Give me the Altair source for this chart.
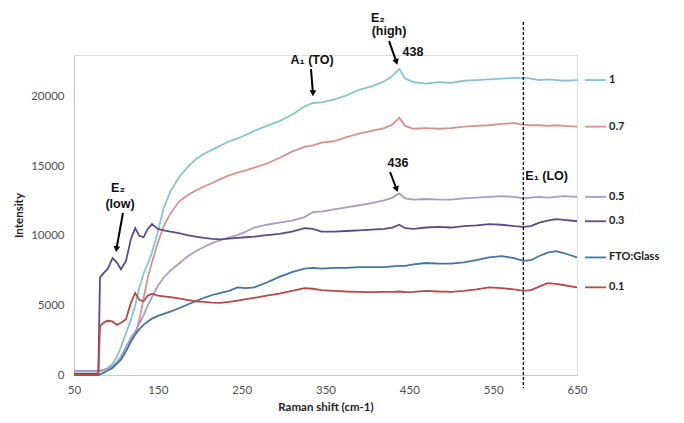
import altair as alt
import pandas as pd

# Raman shift grid (cm-1)
shift = [50, 70, 79, 81, 85, 90, 96, 101, 106, 112, 118, 123, 128, 133, 138, 143, 150, 157, 165, 175,
         185, 195, 205, 215, 225, 235, 245, 255, 265, 280, 295, 310, 325, 335, 345, 360, 375, 390, 405,
         420, 430, 438, 445, 455, 470, 485, 500, 515, 530, 545, 560, 575, 586, 595, 605, 615, 625, 635, 650]

s_1 = [300, 300, 300, 300, 350, 500, 800, 1300, 2000, 3000, 4000, 5000, 6300, 7300, 8000, 8800, 10300,
       12000, 13200, 14200, 14900, 15500, 15900, 16200, 16500, 16800, 17000, 17250, 17550, 17900, 18250,
       18700, 19300, 19550, 19600, 19800, 20100, 20500, 20750, 21100, 21500, 22000, 21300, 21050, 20950,
       21050, 21000, 21150, 21200, 21250, 21300, 21350, 21350, 21300, 21200, 21250, 21200, 21150, 21200]
s_07 = [300, 300, 300, 300, 350, 450, 600, 850, 1300, 2000, 2500, 2900, 4000, 5500, 7000, 8100, 9500,
        10700, 11600, 12450, 12900, 13250, 13550, 13800, 14100, 14350, 14550, 14700, 14900, 15200, 15600,
        16050, 16400, 16500, 16700, 16800, 17100, 17350, 17550, 17750, 18000, 18500, 17900, 17700, 17750,
        17700, 17750, 17850, 17900, 17950, 18050, 18100, 18000, 17950, 17950, 17900, 17950, 17900, 17850]
s_05 = [300, 300, 300, 300, 350, 450, 650, 900, 1300, 2000, 2700, 3100, 3700, 4300, 5000, 5600, 6400,
        7000, 7500, 8000, 8500, 8900, 9200, 9500, 9700, 9900, 10050, 10300, 10600, 10800, 10950, 11100,
        11350, 11700, 11750, 11900, 12050, 12200, 12350, 12550, 12750, 13050, 12700, 12600, 12650, 12600,
        12600, 12700, 12750, 12800, 12850, 12800, 12700, 12750, 12800, 12750, 12800, 12850, 12800]
s_03 = [100, 100, 100, 7000, 7300, 7600, 8400, 8100, 7600, 8200, 9800, 10550, 10000, 9900, 10500, 10850,
        10500, 10400, 10300, 10200, 10050, 9950, 9850, 9780, 9750, 9800, 9850, 9900, 9950, 10050, 10150,
        10300, 10550, 10500, 10300, 10300, 10350, 10400, 10450, 10500, 10600, 10800, 10550, 10500, 10600,
        10650, 10600, 10700, 10750, 10850, 10800, 10700, 10650, 10700, 10950, 11100, 11200, 11150, 11050]
s_fto = [0, 0, 0, 50, 150, 300, 500, 800, 1100, 1700, 2400, 2900, 3300, 3600, 3850, 4050, 4250, 4400,
         4550, 4800, 5050, 5300, 5550, 5750, 5900, 6050, 6300, 6250, 6300, 6650, 7050, 7400, 7650, 7700,
         7650, 7700, 7700, 7750, 7750, 7750, 7800, 7850, 7850, 7950, 8050, 8000, 8000, 8100, 8250, 8450,
         8550, 8400, 8200, 8250, 8550, 8800, 8900, 8750, 8450]
s_01 = [0, 0, 0, 3500, 3750, 3900, 3850, 3600, 3750, 4000, 5200, 5900, 5400, 5300, 5700, 5850, 5700, 5650,
        5600, 5500, 5400, 5300, 5250, 5200, 5180, 5250, 5350, 5450, 5550, 5700, 5850, 6050, 6250, 6200,
        6100, 6050, 6000, 5980, 5950, 5970, 5980, 6000, 5950, 5980, 6050, 6000, 5980, 6050, 6150, 6300,
        6250, 6150, 6050, 6100, 6350, 6600, 6550, 6450, 6300]

series_names = ["1", "0.7", "0.5", "0.3", "FTO:Glass", "0.1"]
series_vals = [s_1, s_07, s_05, s_03, s_fto, s_01]
series_colors = ["#84c3d8", "#d9918c", "#a99dc4", "#5b4c88", "#3f75a8", "#b54a48"]

x_ticks = [50, 150, 250, 350, 450, 550, 650]
y_ticks = [0, 5000, 10000, 15000, 20000]

# annotations
ann_text = ["E\u2082", "(low)", "A\u2081 (TO)", "E\u2082", "(high)", "438", "436"]
ann_x = [102.5, 104.9, 334, 412.6, 425.8, 454.4, 436.5]
ann_y = [13440, 12290, 22640, 25650, 24700, 23220, 15240]

arrow_x = [108.4, 332.7, 425.8, 427.0]
arrow_y = [11640, 21990, 24000, 14590]
arrow_tx = [100.6, 335.0, 434.6, 434.8]
arrow_ty = [9050, 20250, 22500, 13350]
arrow_angle = [10, 0, 343, 341]

lo_shift = 586

rows = []
for name, vals in zip(series_names, series_vals):
    for xv, yv in zip(shift, vals):
        rows.append({"x": xv, "v": yv, "series": name})
df = pd.DataFrame(rows)
last = pd.DataFrame({"series": series_names, "v": [v[-1] for v in series_vals]})
ann = pd.DataFrame({"t": ann_text, "x": ann_x, "y": ann_y})
arr = pd.DataFrame({"x": arrow_x, "y": arrow_y, "x2": arrow_tx, "y2": arrow_ty, "a": arrow_angle})

W, H = 503, 320
xs = alt.Scale(domain=[50, 650], nice=False, zero=False)
ys = alt.Scale(domain=[0, 23000], nice=False)
col = alt.Scale(domain=series_names, range=series_colors)

lines = alt.Chart(df).mark_line(strokeWidth=1.8, clip=False).encode(
    x=alt.X("x:Q", scale=xs, title="Raman shift (cm-1)",
            axis=alt.Axis(values=x_ticks, ticks=False, grid=False, domainColor="#c8c8c8",
                          labelColor="#505050", labelFontSize=11.5, labelFont="Lato",
                          labelFlush=False, labelPadding=9, titleFont="Lato", titleFontSize=11.5,
                          titleFontWeight="bold", titleColor="#222", titlePadding=6)),
    y=alt.Y("v:Q", scale=ys, title="Intensity",
            axis=alt.Axis(values=y_ticks, ticks=False, grid=False, domainColor="#c8c8c8",
                          format="d", labelColor="#505050", labelFontSize=11.5, labelFont="Lato",
                          labelPadding=10, titleFont="Lato", titleFontSize=11.5,
                          titleFontWeight="bold", titleColor="#222", titlePadding=6)),
    color=alt.Color("series:N", scale=col, legend=None),
    detail="series:N",
)

leg_rules = alt.Chart(last).mark_rule(strokeWidth=1.8).encode(
    x=alt.value(511), x2=alt.value(532),
    y=alt.Y("v:Q", scale=ys),
    color=alt.Color("series:N", scale=col, legend=None),
)
leg_text = alt.Chart(last).mark_text(align="left", baseline="middle", font="Lato",
                                     fontSize=11, fontWeight="bold", color="#222").encode(
    x=alt.value(535), y=alt.Y("v:Q", scale=ys), text="series:N")

vline = alt.Chart(pd.DataFrame({"x": [lo_shift]})).mark_rule(
    color="black", strokeWidth=1.3, strokeDash=[3, 2]).encode(
    x=alt.X("x:Q", scale=xs), y=alt.value(-33), y2=alt.value(333))

lo_text = alt.Chart(pd.DataFrame({"x": [lo_shift], "y": [14300], "t": ["E\u2081 (LO)"]})).mark_text(
    align="left", baseline="middle", dx=2, font="Liberation Sans", fontSize=12.5, fontWeight="bold",
    color="#111").encode(x=alt.X("x:Q", scale=xs), y=alt.Y("y:Q", scale=ys), text="t:N")

ann_layer = alt.Chart(ann).mark_text(baseline="middle", align="center", font="Liberation Sans",
                                     fontSize=12.5, fontWeight="bold", color="#111").encode(
    x=alt.X("x:Q", scale=xs), y=alt.Y("y:Q", scale=ys), text="t:N")

shafts = alt.Chart(arr).mark_rule(color="black", strokeWidth=2).encode(
    x=alt.X("x:Q", scale=xs), y=alt.Y("y:Q", scale=ys), x2="x2:Q", y2="y2:Q")
heads = alt.Chart(arr).mark_point(shape="triangle-down", filled=True, color="black", size=45,
                                  opacity=1).encode(
    x=alt.X("x2:Q", scale=xs), y=alt.Y("y2:Q", scale=ys), angle=alt.Angle("a:Q", scale=None))

chart = alt.layer(lines, leg_rules, leg_text, vline, lo_text, ann_layer, shafts, heads).properties(
    width=W, height=H,
    autosize=alt.AutoSizeParams(type="none"),
    padding={"left": 66, "top": 47, "right": 99, "bottom": 40},
).configure_view(stroke=None).configure(background="white")

chart.save("out.html", embed_options={"renderer": "svg", "actions": False})
